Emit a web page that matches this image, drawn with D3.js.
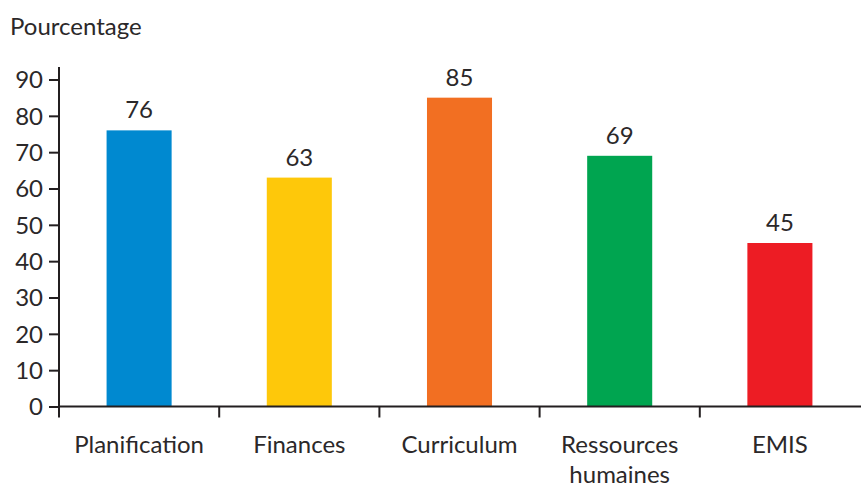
<!DOCTYPE html>
<html>
<head>
<meta charset="utf-8">
<script src="https://cdn.jsdelivr.net/npm/d3@7"></script>
<style>
  html, body { margin: 0; padding: 0; background: #fff; }
  svg { display: block; }
  text { font-family: Lato, "Open Sans", sans-serif; font-weight: 400; fill: #2b2829; }
</style>
</head>
<body>
<script>
const categories = ["Planification", "Finances", "Curriculum", "Ressources humaines", "EMIS"];
const values = [76, 63, 85, 69, 45];
const colors = ["#0089d0", "#fec80a", "#f26f22", "#00a550", "#ed1c24"];
const yTicks = [0, 10, 20, 30, 40, 50, 60, 70, 80, 90];
const yTitle = "Pourcentage";

const W = 861, H = 488;
const svg = d3.select("body").append("svg").attr("width", W).attr("height", H);

const x = d3.scaleBand().domain(categories).range([59, 860]).paddingInner(0.594).paddingOuter(0.297);
const y = d3.scaleLinear().domain([0, 90]).range([406.5, 79.5]);
const ink = "#231f20";
const textInk = "#2b2829";

// Y title
svg.append("text").attr("x", 10).attr("y", 35).attr("font-size", 24).text(yTitle);

// Bars
svg.selectAll("rect.bar").data(categories).enter().append("rect")
  .attr("class", "bar")
  .attr("x", d => x(d))
  .attr("width", x.bandwidth())
  .attr("y", (d, i) => y(values[i]))
  .attr("height", (d, i) => y(0) - y(values[i]))
  .attr("fill", (d, i) => colors[i]);

// Value labels
svg.selectAll("text.val").data(categories).enter().append("text")
  .attr("class", "val")
  .attr("x", d => x(d) + x.bandwidth() / 2)
  .attr("y", (d, i) => y(values[i]) - 12)
  .attr("text-anchor", "middle")
  .attr("font-size", 24)
  .text((d, i) => values[i]);

// Y axis
const yAxis = svg.append("g").attr("transform", "translate(59,0)")
  .call(d3.axisLeft(y).tickValues(yTicks).tickSize(10).tickPadding(6));
yAxis.select(".domain").remove();
yAxis.selectAll(".tick line").attr("stroke", ink).attr("stroke-width", 2);
yAxis.selectAll(".tick text").attr("font-size", 24).attr("font-family", "Lato, 'Open Sans', sans-serif")
  .attr("font-weight", 400).attr("fill", textInk).attr("dy", "0.35em");
svg.append("line").attr("x1", 59).attr("x2", 59).attr("y1", 67).attr("y2", y(0) + 1)
  .attr("stroke", ink).attr("stroke-width", 2);

// X axis line
svg.append("line").attr("x1", 58).attr("x2", 861).attr("y1", y(0)).attr("y2", y(0))
  .attr("stroke", ink).attr("stroke-width", 2);

// X boundary ticks
const bounds = categories.map(c => x(c) + x.bandwidth() / 2 - x.step() / 2);
svg.selectAll("line.xt").data(bounds).enter().append("line")
  .attr("class", "xt")
  .attr("x1", d => d).attr("x2", d => d)
  .attr("y1", y(0)).attr("y2", y(0) + 11)
  .attr("stroke", ink).attr("stroke-width", 2);

// Category labels
const lab = svg.selectAll("text.cat").data(categories).enter().append("text")
  .attr("class", "cat")
  .attr("font-size", 24)
  .attr("text-anchor", "middle")
  .attr("y", 453);
lab.each(function(d) {
  const cx = x(d) + x.bandwidth() / 2;
  const parts = d === "Ressources humaines" ? ["Ressources", "humaines"] : [d];
  const t = d3.select(this);
  parts.forEach((p, i) => {
    t.append("tspan").attr("x", cx).attr("dy", i === 0 ? 0 : 30).text(p);
  });
});
</script>
</body>
</html>
